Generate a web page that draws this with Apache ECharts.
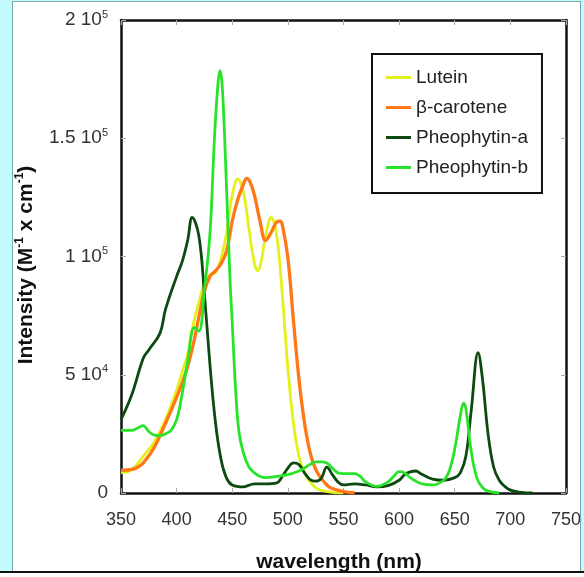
<!DOCTYPE html>
<html>
<head>
<meta charset="utf-8">
<script src="https://cdn.jsdelivr.net/npm/echarts@6/dist/echarts.min.js"></script>
<style>
  body { margin: 0; background: #c4fbfd; width: 584px; height: 577px; overflow: hidden; position: relative; }
  .panel { position: absolute; left: 12px; top: 1px; width: 569px; height: 571px; box-sizing: border-box;
           background: #fff; border: 1px solid #7aa7ab; border-bottom: none; overflow: hidden; }
  .bar { position: absolute; left: 0; top: 571px; width: 584px; height: 2px; background: #111; }
  .foot { position: absolute; left: 0; top: 573px; width: 584px; height: 4px; background: #fbfefe; }
  #main { position: absolute; left: -13px; top: -2px; width: 584px; height: 577px; }
</style>
</head>
<body>
<div class="panel"><div id="main"></div></div>
<div class="bar"></div>
<div class="foot"></div>
<script>
  // wavelength (nm) / intensity pairs
  var luteinWl = [350,360,370,380,390,400,405,410,415,420,425,430,435,440,445,450,455,460,465,470,473,476,480,485,490,495,500,505,510,515,520,525,530,540,550];
  var luteinVal = [8500,10000,15500,21700,31000,43500,51200,59000,71400,80700,88500,92400,93200,99400,110200,125800,132800,127300,111800,97000,94000,97800,108700,116500,108700,83900,52800,29500,15500,8500,4700,2300,1100,300,0];

  var caroteneWl = [350,360,365,370,380,390,400,405,410,415,420,425,430,435,440,445,450,455,460,463,466,470,475,480,485,490,493,495,500,505,510,515,520,525,530,535,540,550,560];
  var caroteneVal = [9600,10000,10900,12700,19400,29500,40400,46600,53600,62900,74500,85400,91600,94000,97000,102500,114900,124200,130500,133000,131500,125800,114900,106800,110200,114600,114900,113400,99400,73000,48100,29500,17100,10000,6200,3400,1900,600,0];

  var pheoAWl = [350,360,370,375,385,390,400,405,410,414,420,425,430,435,440,445,450,460,470,480,490,495,500,505,510,515,520,525,530,535,540,545,550,560,570,580,590,600,605,610,615,620,630,640,650,655,660,665,671,675,680,685,690,695,700,710,720];
  var pheoAVal = [31000,42000,57000,60500,67500,77600,91600,97800,107000,116500,108700,84000,54000,29500,14000,6200,3400,2600,3900,3900,4300,7000,10500,12700,12000,8500,5700,5000,6200,10900,7800,4700,3400,3900,3400,2600,3100,5400,7800,8900,9300,8000,5900,5400,6500,8500,15500,35700,59300,48000,24800,10900,5400,2800,1200,300,0];

  var pheoBWl = [350,360,365,370,375,380,385,390,395,400,405,410,416,420,425,430,434,437,439,441,444,448,450,453,456,460,465,470,475,480,490,500,510,520,525,530,535,540,545,550,560,565,570,580,590,595,600,605,610,620,630,640,645,650,655,658,660,665,670,675,680,690];
  var pheoBVal = [26500,26500,27500,28500,26000,24500,24300,25000,26500,31000,42000,56000,70000,68500,86000,110000,150000,172000,178600,172000,140000,90000,72000,44000,26000,17000,11000,8500,7000,6500,7000,7800,9300,12100,13200,13200,12700,10500,8500,8200,8200,7000,4700,2800,4700,7000,9000,8500,6500,3900,3400,5400,9300,18600,32600,38000,35700,17000,6200,2300,800,0];

  var seriesNames = ['Lutein', 'β-carotene', 'Pheophytin-a', 'Pheophytin-b'];
  var seriesColors = ['#e4f01a', '#ff7716', '#0c4a12', '#28e428'];
  var xTicks = [350, 400, 450, 500, 550, 600, 650, 700, 750];
  var yTickLabels = ['0', '5 10{s|4}', '1 10{s|5}', '1.5 10{s|5}', '2 10{s|5}'];

  function pairs(wl, val) {
    return wl.map(function (w, i) { return [w, val[i]]; });
  }

  var font = '"Liberation Sans", Arial, Helvetica, sans-serif';
  var chart = echarts.init(document.getElementById('main'));

  var lines = [
    pairs(luteinWl, luteinVal),
    pairs(caroteneWl, caroteneVal),
    pairs(pheoAWl, pheoAVal),
    pairs(pheoBWl, pheoBVal)
  ];

  var frameLine = { onZero: false, lineStyle: { color: '#111', width: 2.5 } };
  var innerTick = { inside: true, length: 5, lineStyle: { color: '#aaa' } };

  chart.setOption({
    animation: false,
    textStyle: { fontFamily: font },
    grid: { left: 121, right: 16, top: 20, bottom: 84 },
    legend: {
      orient: 'vertical',
      left: 372,
      top: 54,
      padding: [14, 14, 16, 14],
      itemGap: 11,
      itemWidth: 25,
      itemHeight: 3,
      icon: 'rect',
      borderColor: '#111',
      borderWidth: 2,
      backgroundColor: '#fff',
      textStyle: { fontSize: 19, color: '#222', fontFamily: font },
      data: seriesNames
    },
    xAxis: [{
      type: 'value', min: xTicks[0], max: xTicks[xTicks.length - 1], interval: 50,
      position: 'bottom',
      axisLine: frameLine,
      axisTick: innerTick,
      axisLabel: { fontSize: 18, color: '#333', margin: 18, fontFamily: font },
      splitLine: { show: false }
    }, {
      type: 'value', min: xTicks[0], max: xTicks[xTicks.length - 1], interval: 50,
      position: 'top',
      axisLine: frameLine,
      axisTick: innerTick,
      axisLabel: { show: false },
      splitLine: { show: false }
    }],
    yAxis: [{
      type: 'value', min: 0, max: 200000, interval: 50000,
      position: 'left',
      axisLine: frameLine,
      axisTick: innerTick,
      axisLabel: {
        fontSize: 19, color: '#333', margin: 13, fontFamily: font, lineHeight: 22,
        formatter: function (v) { return yTickLabels[Math.round(v / 50000)]; },
        rich: { s: { fontSize: 11, color: '#333', verticalAlign: 'top', lineHeight: 12, fontFamily: font } }
      },
      splitLine: { show: false }
    }, {
      type: 'value', min: 0, max: 200000, interval: 50000,
      position: 'right',
      axisLine: frameLine,
      axisTick: innerTick,
      axisLabel: { show: false },
      splitLine: { show: false }
    }],
    graphic: [{
      type: 'text', x: 339, y: 562,
      style: { text: 'wavelength (nm)', font: 'bold 21px ' + font, fill: '#111', align: 'center', verticalAlign: 'middle' }
    }, {
      type: 'text', x: 26, y: 265, rotation: Math.PI / 2,
      style: {
        text: '{a|Intensity (M}{b|-1}{a| x cm}{b|-1}{a|)}',
        align: 'center', verticalAlign: 'middle',
        rich: {
          a: { font: 'bold 21px ' + font, fill: '#111', lineHeight: 24 },
          b: { font: 'bold 12px ' + font, fill: '#111', verticalAlign: 'top', lineHeight: 14 }
        }
      }
    }],
    series: lines.map(function (d, i) {
      return {
        name: seriesNames[i],
        type: 'line',
        data: d,
        smooth: 0.4,
        symbol: 'none',
        xAxisIndex: 0,
        yAxisIndex: 0,
        lineStyle: { color: seriesColors[i], width: i === 1 ? 3.3 : 2.8 },
        itemStyle: { color: seriesColors[i] }
      };
    })
  });
</script>
</body>
</html>
